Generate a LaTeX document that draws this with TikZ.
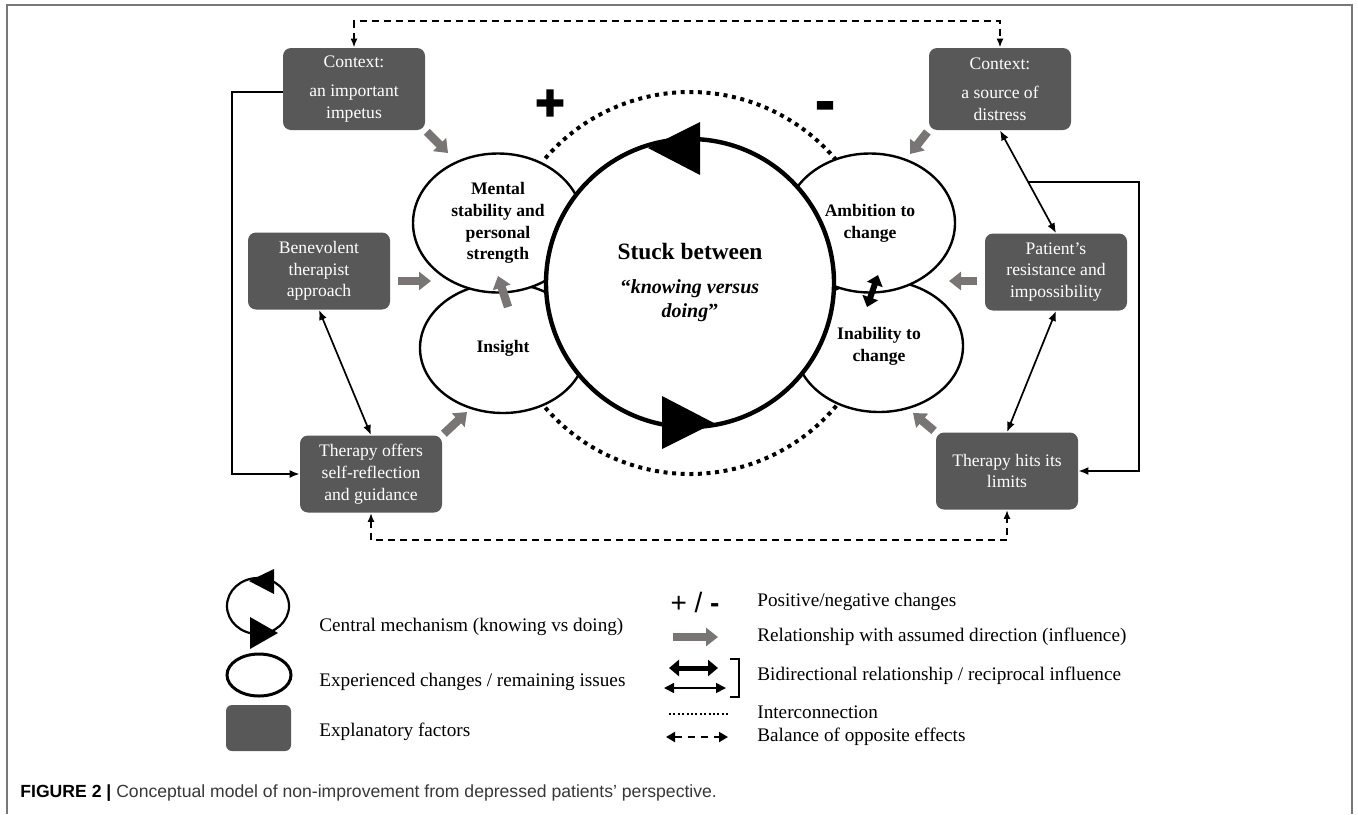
\documentclass[tikz,border=0pt]{standalone}
\usepackage{fontspec}
\setmainfont{Liberation Serif}
\newfontfamily\capfont{Liberation Sans}
\newfontfamily\signfont{Liberation Sans Bold}[FakeBold=3.5]
\usetikzlibrary{shapes.geometric,arrows.meta,positioning}
\definecolor{boxgray}{RGB}{88,88,88}
\definecolor{arrowgray}{RGB}{122,117,117}
\definecolor{framegray}{RGB}{120,120,120}
\definecolor{capgray}{RGB}{55,55,55}
\newcommand{\boxfont}{\fontsize{8.8}{10.85}\selectfont}
\newcommand{\legendfont}{\fontsize{9.6}{11}\selectfont}

\tikzset{
    factor/.style={rectangle, rounded corners=4pt, fill=boxgray, text=white, align=center,
        minimum width=71pt, minimum height=38.5pt, inner sep=2pt, font=\boxfont},
    change/.style={ellipse, draw, line width=1.2pt, fill=white, align=center, inner sep=0pt,
        font=\boxfont\bfseries},
    core/.style={circle, draw, line width=2.2pt, fill=white, minimum size=144pt, inner sep=0pt,
        align=center, font=\bfseries},
    influence/.style={draw=arrowgray, line width=4.2pt, -{Triangle[width=9pt,length=6pt]}},
    mutual/.style={line width=0.85pt, {Latex[length=5pt,width=4pt]}-{Latex[length=5pt,width=4pt]}},
    link/.style={line width=0.85pt, -{Latex[length=5pt,width=4pt]}},
    balance/.style={line width=0.9pt, dash pattern=on 3.5pt off 2.5pt,
        {Latex[length=4.5pt,width=3.5pt]}-{Latex[length=4.5pt,width=3.5pt]}},
    interlink/.style={line width=2pt, dash pattern=on 2pt off 2.3pt},
    legend/.style={anchor=west, inner sep=0pt, font=\legendfont}
}

\begin{document}
\begin{tikzpicture}[x=0.5pt,y=-0.5pt]
    \useasboundingbox (0,0) rectangle (1358,814);
    \draw[framegray, line width=0.7pt] (7,814) -- (7,5) -- (1352,5) -- (1352,814);

    % dotted interconnection around the core
    \coordinate (hub) at (690,283);
    \draw[interlink] ([shift={(-40:191)}]hub) arc[start angle=-40, end angle=-140, radius=191];
    \draw[interlink] ([shift={(40:191)}]hub) arc[start angle=40, end angle=140, radius=191];

    % changes and remaining issues
    \node[change, minimum width=83pt, minimum height=65pt] (insight) at (503,348) {Insight};
    \node[change, minimum width=85pt, minimum height=69.5pt] (mental) at (498,223) {Mental\\stability and\\personal\\strength};
    \node[change, minimum width=84pt, minimum height=66pt] (inability) at (879,346) {Inability to\\change};
    \node[change, minimum width=85pt, minimum height=69.5pt] (ambition) at (870,223) {Ambition to\\change};

    % central mechanism
    \node[core] (core) at (hub) {\fontsize{11.7}{14}\selectfont Stuck between\\[5pt]“\textit{knowing versus}\\\textit{doing}”};
    \fill (648,148) -- (700,122) -- (700,175) -- cycle;
    \fill (714,423) -- (662,396) -- (662,449) -- cycle;

    \node[font=\signfont\fontsize{25}{25}\selectfont] (plus) at (550,105) {+};
    \node[font=\signfont\fontsize{28}{28}\selectfont] (minus) at (825,111) {-};

    % explanatory factors
    \node[factor, minimum height=41pt] (ctxL) at (354,89) {Context:\\[4pt]an important\\impetus};
    \node[factor, minimum height=41pt] (ctxR) at (1000,89) {Context:\\[4pt]a source of\\distress};
    \node[factor] (bene) at (319,271) {Benevolent\\therapist\\approach};
    \node[factor] (pati) at (1056,272) {Patient’s\\resistance and\\impossibility};
    \node[factor] (offers) at (371,474) {Therapy offers\\self-reflection\\and guidance};
    \node[factor] (limits) at (1007,471) {Therapy hits its\\limits};

    % balance of opposite effects
    \coordinate (topline) at (0,21);
    \coordinate (botline) at (0,540);
    \draw[balance] (ctxL.north) -- (ctxL.north |- topline) -| (ctxR.north);
    \draw[balance] (offers.south) -- (offers.south |- botline) -| (limits.south);

    % reciprocal links
    \coordinate (lrail) at (232,0);
    \coordinate (rrail) at (1139,0);
    \coordinate (ctxLout) at ([yshift=-1.5pt]ctxL.west);
    \draw[link] (ctxLout) -- (ctxLout -| lrail) |- (offers.west);
    \draw[mutual] (bene.south) -- (offers.north);
    \draw[mutual] (ctxR.south) -- coordinate (fork) (pati.north);
    \draw[mutual] (pati.south) -- (limits.north);
    \draw[link] (fork) -- (fork -| rrail) |- (limits.east);
    \coordinate (ambTip) at (878,275);
    \coordinate (inaTip) at (867,307);
    \draw[line width=3pt, {Triangle[width=8pt,length=5pt]}-{Triangle[width=8pt,length=5pt]}] (ambTip) -- (inaTip);

    % influences
    \coordinate (toMental) at (448,153);
    \coordinate (toJoinL) at (431,281);
    \coordinate (toInsight) at (467,412);
    \coordinate (insightTail) at (508,307);
    \coordinate (mentalHead) at (498,276);
    \coordinate (toAmbition) at (910,154);
    \coordinate (toJoinR) at (949,281);
    \coordinate (toInability) at (913,413);
    \draw[influence, shorten <=1pt] (ctxL.south east) -- (toMental);
    \draw[influence] ([shift={(4pt,-5pt)}]bene.east) -- (toJoinL);
    \draw[influence, shorten <=1pt] (offers.north east) -- (toInsight);
    \draw[influence] (insightTail) -- (mentalHead);
    \draw[influence, shorten <=1pt] (ctxR.south west) -- (toAmbition);
    \draw[influence] ([shift={(-4pt,-4.5pt)}]pati.west) -- (toJoinR);
    \draw[influence, shorten <=1pt] (limits.north west) -- (toInability);

    % legend, left column
    \node[ellipse, draw, line width=1.1pt, minimum width=31pt, minimum height=28pt, inner sep=0pt] (iconloop) at (258,606) {};
    \fill (249,581) -- (274,569) -- (274,594) -- cycle;
    \fill (278,633) -- (250,617) -- (250,649) -- cycle;
    \node[ellipse, draw, line width=1.5pt, minimum width=32pt, minimum height=21pt, inner sep=0pt] (iconchange) at (259,675) {};
    \node[rectangle, rounded corners=3pt, fill=boxgray, minimum width=32.5pt, minimum height=23pt] (iconfactor) at (258.5,728) {};
    \node[legend] (lgloop) at (319,627) {Central mechanism (knowing vs doing)};
    \node[legend] (lgchange) at (319,682) {Experienced changes / remaining issues};
    \node[legend] (lgfactor) at (319,732) {Explanatory factors};

    % legend, right column
    \node[font=\capfont\fontsize{14}{14}\selectfont] (iconsign) at (695,602) {+ / \textbf{-}};
    \draw[influence, -{Triangle[width=9pt,length=6pt]}] (673,637) -- (718,637);
    \draw[line width=2.5pt, {Triangle[width=8pt,length=5pt]}-{Triangle[width=8pt,length=5pt]}] (669,668) -- (718,668);
    \draw[line width=0.8pt, {Triangle[width=5pt,length=5pt]}-{Triangle[width=5pt,length=5pt]}] (664,688) -- (726,688);
    \draw[line width=0.6pt] (730,659) -- (739,659) -- (739,697) -- (730,697);
    \draw[line width=1pt, dash pattern=on 1pt off 1.2pt] (669,714) -- (728,714);
    \draw[line width=1pt, dash pattern=on 3.5pt off 3pt, {Triangle[width=5pt,length=4.5pt]}-{Triangle[width=5pt,length=4.5pt]}] (666,737) -- (728,737);
    \node[legend] (lgsign) at (757,602) {Positive/negative changes};
    \node[legend] (lginfl) at (757,637) {Relationship with assumed direction (influence)};
    \node[legend] (lgbidi) at (757,676) {Bidirectional relationship / reciprocal influence};
    \node[legend] (lginter) at (757,712) {Interconnection};
    \node[legend] (lgbal) at (757,737) {Balance of opposite effects};

    % caption
    \node[anchor=base west, inner sep=0pt, text=capgray, font=\capfont\fontsize{8.8}{10}\selectfont] (caption) at (20,797)
        {\textcolor{black}{\textbf{FIGURE 2 |}} Conceptual model of non-improvement from depressed patients’ perspective.};
\end{tikzpicture}
\end{document}
